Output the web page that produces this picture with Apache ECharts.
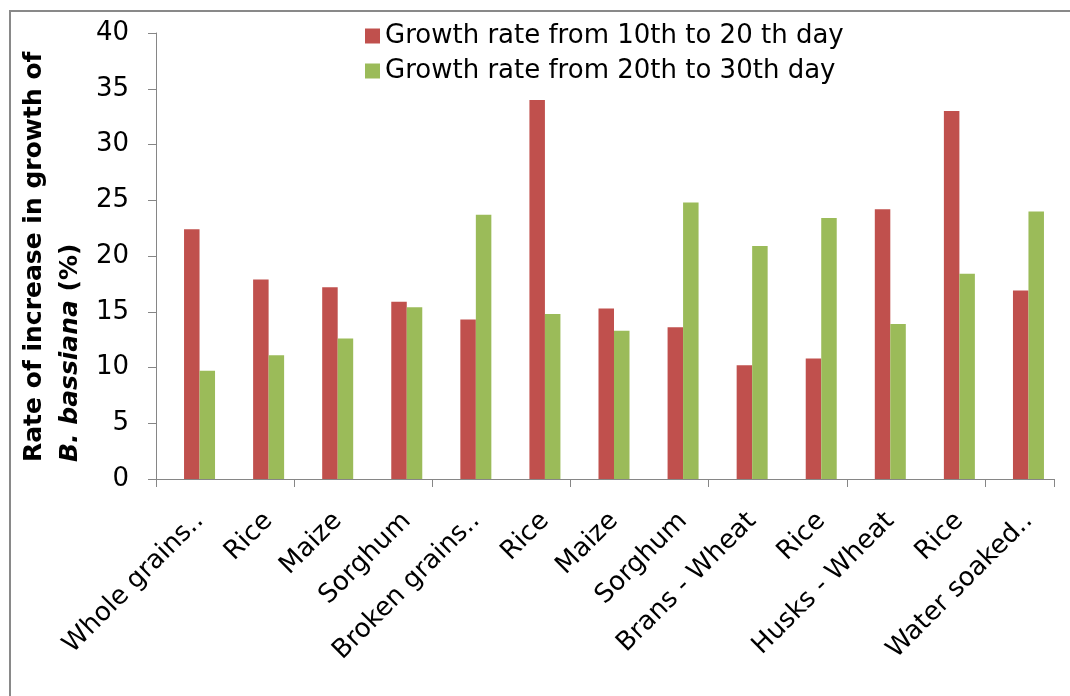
<!DOCTYPE html>
<html>
<head>
<meta charset="utf-8">
<title>Growth rate of B. bassiana</title>
<script src="https://cdn.jsdelivr.net/npm/echarts@6/dist/echarts.min.js"></script>
<style>
  html, body { margin: 0; padding: 0; background: #fff; }
  #chart { width: 1070px; height: 696px; }
</style>
</head>
<body>
<div id="chart"></div>
<script>
// substrates (x axis)
const categories = [
  "Whole grains..", "Rice", "Maize", "Sorghum", "Broken grains..", "Rice",
  "Maize", "Sorghum", "Brans - Wheat", "Rice", "Husks - Wheat", "Rice", "Water soaked.."
];
const seriesNames = ["Growth rate from 10th to 20 th day", "Growth rate from 20th to 30th day"];
const rate10to20 = [22.4, 17.9, 17.2, 15.9, 14.3, 34.0, 15.3, 13.6, 10.2, 10.8, 24.2, 33.0, 16.9];
const rate20to30 = [9.7, 11.1, 12.6, 15.4, 23.7, 14.8, 13.3, 24.8, 20.9, 23.4, 13.9, 18.4, 24.0];
const yTicks = { min: 0, max: 40, interval: 5 };

const font = "DejaVu Sans";
const axisGray = "#868686";

const chart = echarts.init(document.getElementById("chart"));

const option = {
  animation: false,
  backgroundColor: "#fff",
  // grid 0 draws the axes, grid 1 (shifted a bit right) holds the bars + labels
  grid: [
    { left: 156, right: 16, top: 33, bottom: 217 },
    { left: 165, right: 7, top: 33, bottom: 217 }
  ],
  legend: {
    data: seriesNames,
    orient: "vertical",
    left: 360,
    top: 16,
    icon: "rect",
    itemWidth: 15,
    itemHeight: 15,
    itemGap: 5,
    textStyle: { fontFamily: font, fontSize: 26, color: "#000", lineHeight: 30 }
  },
  xAxis: [
    {
      type: "category",
      gridIndex: 0,
      data: categories,
      axisLine: { lineStyle: { color: axisGray, width: 1 } },
      axisTick: { show: true, length: 8, lineStyle: { color: axisGray } },
      axisLabel: { show: false }
    },
    {
      type: "category",
      gridIndex: 1,
      data: categories,
      axisLine: { show: false },
      axisTick: { show: false },
      axisLabel: {
        interval: 0,
        rotate: 45,
        margin: 38,
        color: "#000",
        fontFamily: font,
        fontSize: 26
      }
    }
  ],
  yAxis: [
    {
      type: "value",
      gridIndex: 0,
      min: yTicks.min,
      max: yTicks.max,
      interval: yTicks.interval,
      axisLine: { show: true, lineStyle: { color: axisGray, width: 1 } },
      axisTick: { show: true, length: 8, lineStyle: { color: axisGray } },
      splitLine: { show: false },
      axisLabel: { margin: 27, color: "#000", fontFamily: font, fontSize: 26 }
    },
    {
      type: "value",
      gridIndex: 1,
      min: yTicks.min,
      max: yTicks.max,
      interval: yTicks.interval,
      show: false,
      splitLine: { show: false }
    }
  ],
  series: [
    {
      name: seriesNames[0],
      type: "bar",
      xAxisIndex: 1,
      yAxisIndex: 1,
      data: rate10to20,
      barWidth: 15.5,
      barGap: "0%",
      itemStyle: { color: "#C0504D" }
    },
    {
      name: seriesNames[1],
      type: "bar",
      xAxisIndex: 1,
      yAxisIndex: 1,
      data: rate20to30,
      barWidth: 15.5,
      barGap: "0%",
      itemStyle: { color: "#9BBB59" }
    }
  ],
  graphic: [
    {
      // outer frame, only the top and left edges fall inside the picture
      type: "polyline",
      shape: { points: [[10, 720], [10, 11], [1090, 11]] },
      style: { fill: null, stroke: "#898989", lineWidth: 2 },
      silent: true
    },
    {
      type: "text",
      x: 16,
      y: 462,
      rotation: Math.PI / 2,
      style: {
        text: "{a|Rate of increase in growth of}\n{b|B. bassiana}{a| (%)}",
        align: "left",
        verticalAlign: "top",
        textAlign: "left",
        textVerticalAlign: "top",
        fill: "#000",
        rich: {
          a: { fontFamily: font, fontSize: 25, fontWeight: "bold", lineHeight: 36, fill: "#000" },
          b: { fontFamily: font, fontSize: 25, fontWeight: "bold", fontStyle: "italic", lineHeight: 36, fill: "#000" }
        }
      }
    }
  ]
};

chart.setOption(option);
</script>
</body>
</html>
